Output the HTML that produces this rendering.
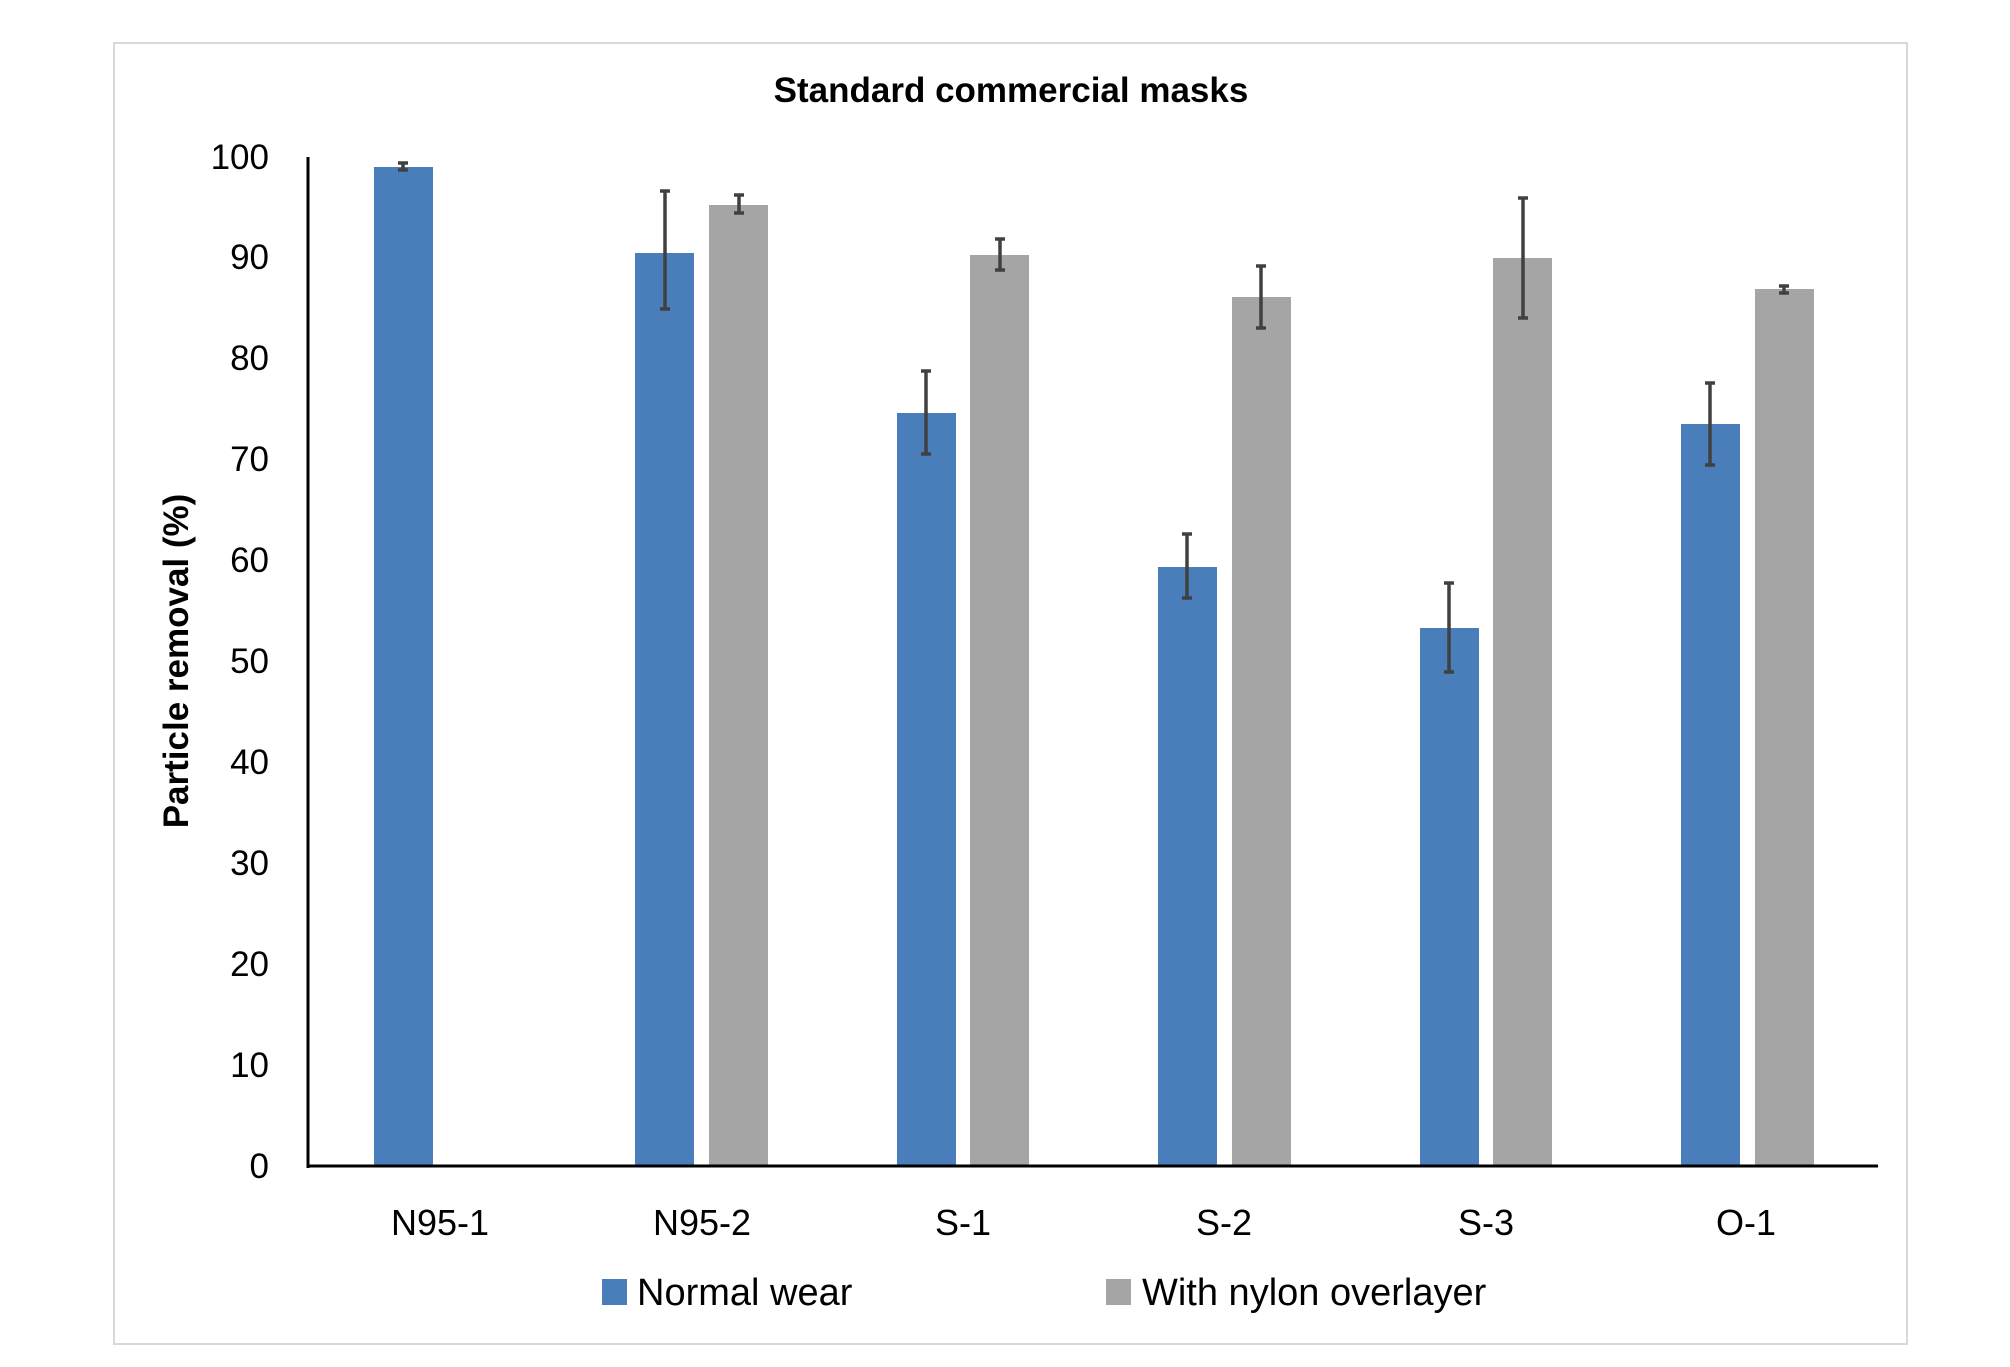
<!DOCTYPE html>
<html><head><meta charset="utf-8"><style>html,body{margin:0;padding:0;background:#fff}</style></head>
<body>
<svg width="2010" height="1362" viewBox="0 0 2010 1362" xmlns="http://www.w3.org/2000/svg" font-family="Liberation Sans, sans-serif">
<rect x="0" y="0" width="2010" height="1362" fill="#fff"/>
<rect x="114" y="43" width="1793" height="1301" fill="#fff" stroke="#d9d9d9" stroke-width="2"/>
<text x="1011" y="102" text-anchor="middle" font-size="35" font-weight="bold" fill="#000">Standard commercial masks</text>
<g font-size="35" fill="#000" text-anchor="end">
<text x="269" y="1178">0</text><text x="269" y="1077">10</text><text x="269" y="976">20</text><text x="269" y="875">30</text><text x="269" y="774">40</text><text x="269" y="673">50</text><text x="269" y="572">60</text><text x="269" y="471">70</text><text x="269" y="370">80</text><text x="269" y="269">90</text><text x="269" y="169">100</text>
</g>
<text transform="translate(188,661) rotate(-90)" text-anchor="middle" font-size="35" font-weight="bold" fill="#000">Particle removal (%)</text>
<g fill="#4a7ebb">
<rect x="374" y="167" width="59" height="999"/>
<rect x="635" y="253" width="59" height="913"/>
<rect x="897" y="413" width="59" height="753"/>
<rect x="1158" y="567" width="59" height="599"/>
<rect x="1420" y="628" width="59" height="538"/>
<rect x="1681" y="424" width="59" height="742"/>
</g>
<g fill="#a5a5a5">
<rect x="709" y="205" width="59" height="961"/>
<rect x="970" y="255" width="59" height="911"/>
<rect x="1232" y="297" width="59" height="869"/>
<rect x="1493" y="258" width="59" height="908"/>
<rect x="1755" y="289" width="59" height="877"/>
</g>
<g stroke="#404040" stroke-width="3.5">
<path d="M403 163V170M398 163H408M398 170H408"/>
<path d="M665 191V309M660 191H670M660 309H670"/>
<path d="M739 195V213M734 195H744M734 213H744"/>
<path d="M926 371V454M921 371H931M921 454H931"/>
<path d="M1000 239V270M995 239H1005M995 270H1005"/>
<path d="M1187 534V598M1182 534H1192M1182 598H1192"/>
<path d="M1261 266V328M1256 266H1266M1256 328H1266"/>
<path d="M1449 583V672M1444 583H1454M1444 672H1454"/>
<path d="M1523 198V318M1518 198H1528M1518 318H1528"/>
<path d="M1710 383V465M1705 383H1715M1705 465H1715"/>
<path d="M1784 286V293M1779 286H1789M1779 293H1789"/>
</g>
<line x1="308" y1="157" x2="308" y2="1168" stroke="#000" stroke-width="3"/>
<line x1="307" y1="1166" x2="1878" y2="1166" stroke="#000" stroke-width="3"/>
<g font-size="36" fill="#000" text-anchor="middle">
<text x="440" y="1235">N95-1</text><text x="702" y="1235">N95-2</text><text x="963" y="1235">S-1</text><text x="1224" y="1235">S-2</text><text x="1486" y="1235">S-3</text><text x="1746" y="1235">O-1</text>
</g>
<rect x="602" y="1279" width="25" height="26" fill="#4a7ebb"/>
<text x="637" y="1305" font-size="38" fill="#000">Normal wear</text>
<rect x="1106" y="1279" width="25" height="26" fill="#a5a5a5"/>
<text x="1142" y="1305" font-size="38" fill="#000">With nylon overlayer</text>
</svg>
</body></html>
